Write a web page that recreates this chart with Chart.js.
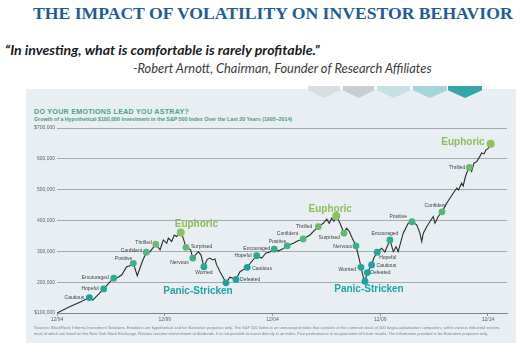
<!DOCTYPE html>
<html>
<head>
<meta charset="utf-8">
<script src="https://cdn.jsdelivr.net/npm/chart.js@4.4.1/dist/chart.umd.min.js"></script>
<style>
  html, body { margin: 0; padding: 0; background: #fff; }
  body { width: 525px; height: 350px; position: relative; overflow: hidden; }
  .abs { position: absolute; white-space: nowrap; line-height: 1; }
  #title { left: 33px; top: 5px; font-family: "Liberation Serif", serif; font-weight: bold; color: #1d5c9b; }
  #quote { left: 5px; top: 43px; font-family: "Lato", sans-serif; font-weight: bold; font-style: italic; color: #1b1b1b; }
  #author { left: 133px; top: 62px; font-family: "Lato", sans-serif; font-style: italic; color: #3a3a3a; }
  #panel { position: absolute; left: 26px; top: 89px; width: 490px; height: 254px; background: #e8eef1; }
  .chev { position: absolute; top: 86px; height: 12px; clip-path: polygon(0 0, 100% 0, 100% 35%, 50% 100%, 0 35%); }
  #ctitle { left: 34px; top: 108px; font-family: "Liberation Sans", sans-serif; font-weight: bold; color: #47a57e; letter-spacing: 0.3px; }
  #csub { left: 34px; top: 117px; font-family: "Liberation Sans", sans-serif; font-weight: bold; color: #4b9d7a; }
  .foot { left: 34px; font-family: "Liberation Sans", sans-serif; color: #7d8587; }
  #wrap { position: absolute; left: 26px; top: 89px; width: 490px; height: 254px; }
</style>
</head>
<body>
<div id="title" class="abs">THE IMPACT OF VOLATILITY ON INVESTOR BEHAVIOR</div>
<div id="quote" class="abs">“In investing, what is comfortable is rarely profitable.”</div>
<div id="author" class="abs">-Robert Arnott, Chairman, Founder of Research Affiliates</div>
<div id="panel"></div>
<div class="chev" style="left:308px;width:32px;background:#d9dee0"></div>
<div class="chev" style="left:343px;width:31px;background:#c8ced1"></div>
<div class="chev" style="left:377px;width:33px;background:#c6e0e3"></div>
<div class="chev" style="left:413px;width:34px;background:#a5d4d9"></div>
<div class="chev" style="left:448px;width:34px;background:#32a6ab"></div>
<div id="ctitle" class="abs">DO YOUR EMOTIONS LEAD YOU ASTRAY?</div>
<div id="csub" class="abs">Growth of a Hypothetical $100,000 Investment in the S&amp;P 500 Index Over the Last 20 Years (1995–2014)</div>
<div id="wrap"><canvas id="chart"></canvas></div>
<div id="foot1" class="abs foot" style="top:326px">Sources: BlackRock; Informa Investment Solutions. Emotions are hypothetical and for illustrative purposes only. The S&amp;P 500 Index is an unmanaged index that consists of the common stock of 500 large-capitalization companies, within various industrial sectors,</div>
<div id="foot2" class="abs foot" style="top:332px">most of which are listed on the New York Stock Exchange. Returns assume reinvestment of dividends. It is not possible to invest directly in an index. Past performance is no guarantee of future results. The information provided is for illustrative purposes only.</div>

<script>
// months since 12/94, value in $ thousands
var months = [0, 7, 13, 18, 20, 26, 29.5, 31.6, 34, 36, 38.8, 40.6, 42.5, 44.7, 47.5, 49.7, 51.8, 55,
  57.4, 59.2, 61.1, 62, 63.9, 65.3, 66.6, 68.9, 70.3, 71.8, 74.4, 75.6, 78.7, 80.2, 81.8, 83.7, 85.2,
  86.7, 88, 88.9, 90.8, 94.1, 96.3, 99.7, 101.9, 105.9, 108.4, 111.2, 114, 116.4, 118.6, 121, 123.2,
  125.8, 128.2, 131.6, 134.2, 137.1, 140.9, 143.1, 145.5, 148.3, 150.2, 151.6, 153, 154.2, 155.5,
  157.6, 159.8, 161.3, 162.8, 164.3, 166.5, 168.4, 169.3, 170.5, 171.5, 172.8, 175.2, 176.5, 178.3,
  180.8, 182.6, 185.4, 187.3, 188.8, 190, 192.8, 195.6, 197.7, 200.3, 202.1, 203.1, 204, 205.9, 207.7,
  209.5, 210.5, 212.3, 214.4, 217, 218.8, 220.7, 222.6, 223.6, 225.3, 226.2, 227.2, 228.1, 229.6,
  230.9, 232.2, 233.7, 235.5, 236.5, 237.8, 238.9, 240, 241.5];
var values = [100, 120, 136, 150, 142, 178, 201, 213, 216, 223, 250, 253, 261, 221, 267, 297, 299, 323,
  305, 337, 326, 343, 332, 353, 348, 361, 343, 313, 305, 278, 299, 288, 250, 274, 278,
  272, 275, 256, 234, 198, 216, 209, 234, 248, 267, 286, 278, 295, 298, 307, 301,
  308, 318, 326, 334, 340, 353, 366, 380, 391, 404, 391, 408, 397, 415,
  391, 359, 375, 364, 344, 318, 272, 248, 218, 203, 231, 256, 279, 297,
  310, 298, 337, 299, 315, 299, 359, 391, 396, 386, 359, 332, 359, 380, 397,
  413, 391, 413, 428, 456, 472, 489, 505, 499, 521, 512, 537, 554, 572,
  559, 586, 591, 608, 619, 616, 629, 633, 649];

var markerLabels = ["Cautious", "Hopeful", "Encouraged", "Positive", "Confident", "Thrilled", "Euphoric",
  "Surprised", "Nervous", "Worried", "Panic-Stricken", "Defeated", "Cautious", "Hopeful", "Encouraged",
  "Positive", "Confident", "Thrilled", "Euphoric", "Surprised", "Nervous", "Worried", "Panic-Stricken",
  "Defeated", "Cautious", "Hopeful", "Encouraged", "Positive", "Confident", "Thrilled", "Euphoric"];
var markerMonths = [18, 26, 31.6, 42.5, 49.7, 55, 68.9, 71.8, 75.6, 81.8, 94.1, 99.7, 105.9, 111.2, 121,
  128.2, 137.1, 145.5, 155.5, 159.8, 166.5, 169.3, 171.5, 172.8, 175.2, 178.3, 185.4, 197.7, 214.4, 229.6, 241.5];
var markerValues = [150, 178, 213, 261, 297, 323, 361, 313, 278, 250, 198, 209, 248, 286, 307,
  318, 340, 380, 415, 359, 318, 248, 203, 231, 256, 297, 337, 396, 428, 572, 649];

var xTickMonths = [0, 60, 120, 180, 240];
var xTickLabels = ["12/94", "12/99", "12/04", "12/09", "12/14"];
var yTickValues = [100, 200, 300, 400, 500, 600, 700];
var yTickLabels = ["$100,000", "200,000", "300,000", "400,000", "500,000", "600,000", "$700,000"];

// styles
var moodColors = {
  "Cautious": "#1ca29c", "Hopeful": "#25a894", "Encouraged": "#31ad8b", "Positive": "#41b283",
  "Confident": "#57b67a", "Thrilled": "#6dba6e", "Euphoric": "#8cc062", "Surprised": "#69b871",
  "Nervous": "#3caf88", "Worried": "#22a799", "Panic-Stricken": "#16a3a0", "Defeated": "#19a4a0"
};
var bigLabels = { "Euphoric": "#8cbd5e", "Panic-Stricken": "#20a4a4" };
// [dx, dy, align]
var labelPlace = [
  [-5, 0, "right"], [-5, 0, "right"], [-5, -1, "right"], [-1, -5, "right"], [-4, -2, "right"], [-4, -2, "right"],
  [-6, -8, "left"], [5, -1, "left"], [-4, 5, "right"], [0, 6, "center"], [-28, 8, "center"], [4, 0, "left"],
  [5, 1, "left"], [-5, 0, "right"], [-4, -1, "right"], [-1, -4, "right"], [-5, -5, "right"], [-6, 0, "right"],
  [-6, -7, "center"], [-4, 4, "right"], [-4, 1, "right"], [-5, 2, "right"], [4, 8, "center"], [3, 0, "left"],
  [5, 1, "left"], [2, 5, "left"], [-5, -6, "center"], [-5, -5, "right"], [4, -6, "right"], [-4, 0, "right"],
  [-6, -1, "right"]
];

function fitWidth(id, w) {
  var el = document.getElementById(id);
  el.style.fontSize = "20px";
  var cur = el.getBoundingClientRect().width;
  el.style.fontSize = (20 * w / cur) + "px";
}
fitWidth("title", 480);
fitWidth("quote", 315);
fitWidth("author", 299);
fitWidth("ctitle", 149);
fitWidth("csub", 259);
fitWidth("foot1", 468);
fitWidth("foot2", 455);

var lineData = months.map(function (m, i) { return { x: m, y: values[i] }; });
var markerData = markerMonths.map(function (m, i) { return { x: m, y: markerValues[i] }; });

var emotionLabels = {
  id: "emotionLabels",
  afterDatasetsDraw: function (chart) {
    var ctx = chart.ctx;
    var meta = chart.getDatasetMeta(1);
    ctx.save();
    ctx.textBaseline = "middle";
    meta.data.forEach(function (pt, i) {
      var name = markerLabels[i];
      var p = labelPlace[i];
      if (bigLabels[name]) {
        ctx.font = "bold 10px 'Liberation Sans', Arial, sans-serif";
        ctx.fillStyle = bigLabels[name];
      } else {
        ctx.font = "5px 'Liberation Sans', Arial, sans-serif";
        ctx.fillStyle = "#3a3f41";
      }
      ctx.textAlign = p[2];
      ctx.fillText(name, pt.x + p[0], pt.y + p[1]);
    });
    ctx.restore();
  }
};

new Chart(document.getElementById("chart"), {
  type: "line",
  data: {
    datasets: [
      {
        data: lineData,
        borderColor: "#2a2d2e",
        borderWidth: 1.1,
        pointRadius: 0,
        tension: 0,
        order: 2
      },
      {
        type: "scatter",
        data: markerData,
        pointRadius: markerLabels.map(function (n) { return n === "Euphoric" ? 4 : 3.4; }),
        pointBackgroundColor: markerLabels.map(function (n) { return moodColors[n]; }),
        pointBorderWidth: 0,
        order: 1
      }
    ]
  },
  options: {
    responsive: true,
    maintainAspectRatio: false,
    animation: false,
    layout: { padding: { top: 39, right: 9, bottom: 0, left: 0 } },
    plugins: { legend: { display: false }, tooltip: { enabled: false } },
    scales: {
      x: {
        type: "linear",
        min: 0,
        max: 250.6,
        afterBuildTicks: function (scale) {
          scale.ticks = xTickMonths.map(function (v) { return { value: v }; });
        },
        afterFit: function (scale) { scale.height = 30; },
        ticks: {
          autoSkip: false,
          maxRotation: 0,
          padding: 1,
          color: "#5d6466",
          font: { size: 5, family: "'Liberation Sans', Arial, sans-serif" },
          callback: function (v) { return xTickLabels[xTickMonths.indexOf(v)]; }
        },
        grid: { display: true, drawOnChartArea: false, drawTicks: true, tickLength: 3, color: "#8d9396" },
        border: { display: true, color: "#7d8386", width: 1 }
      },
      y: {
        min: 100,
        max: 700,
        afterBuildTicks: function (scale) {
          scale.ticks = yTickValues.map(function (v) { return { value: v }; });
        },
        afterFit: function (scale) { scale.width = 31; },
        ticks: {
          padding: 2,
          color: "#5d6466",
          font: { size: 5, family: "'Liberation Sans', Arial, sans-serif" },
          callback: function (v) { return yTickLabels[yTickValues.indexOf(v)]; }
        },
        grid: { color: "#a4aaad", lineWidth: 1, drawTicks: false },
        border: { display: false }
      }
    }
  },
  plugins: [emotionLabels]
});
</script>
</body>
</html>
